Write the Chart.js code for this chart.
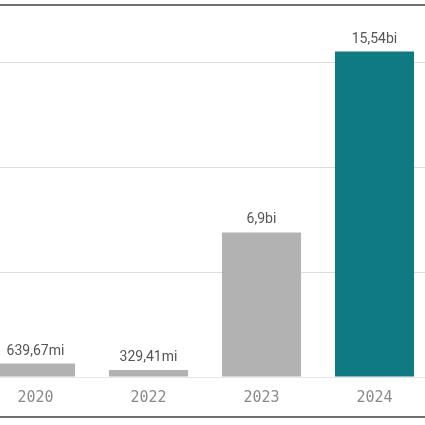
<!DOCTYPE html>
<html>
<head>
<meta charset="utf-8">
<script src="https://cdn.jsdelivr.net/npm/chart.js@4/dist/chart.umd.min.js"></script>
<style>
  html, body { margin:0; padding:0; background:#fff; }
  body { width:425px; height:425px; position:relative; overflow:hidden; }
  .frame-top, .frame-bottom { position:absolute; left:0; width:425px; height:2px; background:#6e6e6e; }
  .frame-top { top:4px; }
  .frame-bottom { top:416px; }
  #wrap { position:absolute; left:-21px; top:0; width:452px; height:425px; }
</style>
</head>
<body>
<div class="frame-top"></div>
<div id="wrap"><canvas id="chart"></canvas></div>
<div class="frame-bottom"></div>
<script>
// valores em milhões
const anos    = ['2020', '2022', '2023', '2024'];
const valores = [639.67, 329.41, 6900, 15540];
const cores   = ['#b2b2b2', '#b2b2b2', '#b2b2b2', '#0f7a81'];
const gridTicks = [0, 5000, 10000, 15000];

function fmtValor(v) {
  if (v >= 1000) return (v / 1000).toLocaleString('pt-BR', { maximumFractionDigits: 2 }) + 'bi';
  return v.toLocaleString('pt-BR', { maximumFractionDigits: 2 }) + 'mi';
}

const valueLabels = {
  id: 'valueLabels',
  afterDatasetsDraw(chart) {
    const { ctx } = chart;
    const meta = chart.getDatasetMeta(0);
    ctx.save();
    ctx.font = '14px Roboto, sans-serif';
    ctx.fillStyle = '#555555';
    ctx.textAlign = 'center';
    ctx.textBaseline = 'alphabetic';
    meta.data.forEach((bar, i) => {
      ctx.fillText(fmtValor(valores[i]), bar.x, bar.y - 9);
    });
    ctx.restore();
  }
};

new Chart(document.getElementById('chart'), {
  type: 'bar',
  data: {
    labels: anos,
    datasets: [{
      data: valores,
      backgroundColor: cores,
      borderWidth: 0,
      categoryPercentage: 1,
      barPercentage: 0.7,
    }]
  },
  options: {
    responsive: true, maintainAspectRatio: false, animation: false,
    layout: { padding: { top: 0, bottom: 6, left: 0, right: 0 } },
    plugins: { legend: { display: false }, tooltip: { enabled: false } },
    scales: {
      x: {
        grid: { display: false, drawTicks: false },
        border: { display: true, color: '#e6e6e6', width: 1 },
        ticks: { color: '#8a8a8a', padding: 12, font: { family: '"DejaVu Sans Mono", monospace', size: 15 } }
      },
      y: {
        min: 0, max: 18000,
        afterBuildTicks: s => { s.ticks = gridTicks.map(v => ({ value: v })); },
        afterFit: s => { s.width = 0; },
        grid: { color: '#dedede', lineWidth: 1, drawTicks: false },
        border: { display: false },
        ticks: { display: false }
      }
    }
  },
  plugins: [valueLabels]
});
</script>
</body>
</html>
